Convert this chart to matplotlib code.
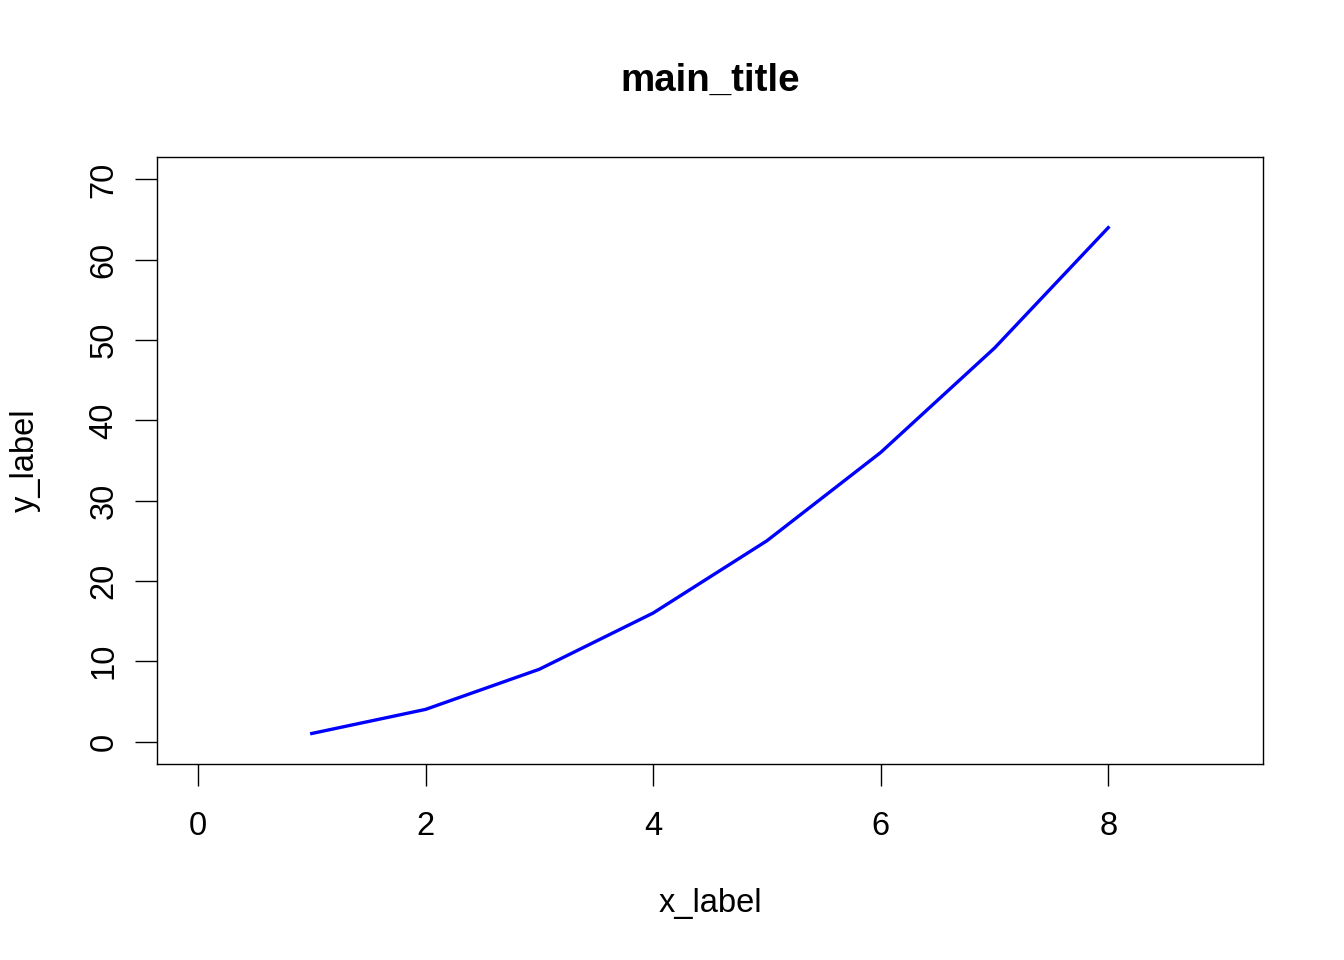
import matplotlib
matplotlib.use("Agg")
import matplotlib.pyplot as plt

x_values = [1, 2, 3, 4, 5, 6, 7, 8]
y_values = [1, 4, 9, 16, 25, 36, 49, 64]
x_ticks = [0, 2, 4, 6, 8]
y_ticks = [0, 10, 20, 30, 40, 50, 60, 70]

plt.rcParams['font.family'] = ['Liberation Sans', 'DejaVu Sans']

fig = plt.figure(figsize=(13.44, 9.6), dpi=100)
ax = fig.add_axes([157/1344, 1 - 764/960, (1263-157)/1344, (764-157)/960])
ax.plot(x_values, y_values, color='#0000FF', linewidth=2.4)
ax.set_xlim(-0.36, 9.36)
ax.set_ylim(-2.8, 72.8)
ax.set_xticks(x_ticks)
ax.set_yticks(y_ticks)
ax.tick_params(axis='both', direction='out', length=16, width=1.0, labelsize=23.5, pad=18, color='black')
ax.tick_params(axis='y', labelrotation=90, pad=11)
for lbl in ax.get_yticklabels():
    lbl.set_va('center')
for s in ax.spines.values():
    s.set_linewidth(1.0)
ax.set_xlabel('x_label', fontsize=23.5, labelpad=33)
ax.set_ylabel('y_label', fontsize=23.5, labelpad=34)
fig.text((157+1263)/2/1344, 1 - 81/960, 'main_title', fontsize=27.7, fontweight='bold', ha='center', va='center')
fig.savefig('out.png', dpi=100)
